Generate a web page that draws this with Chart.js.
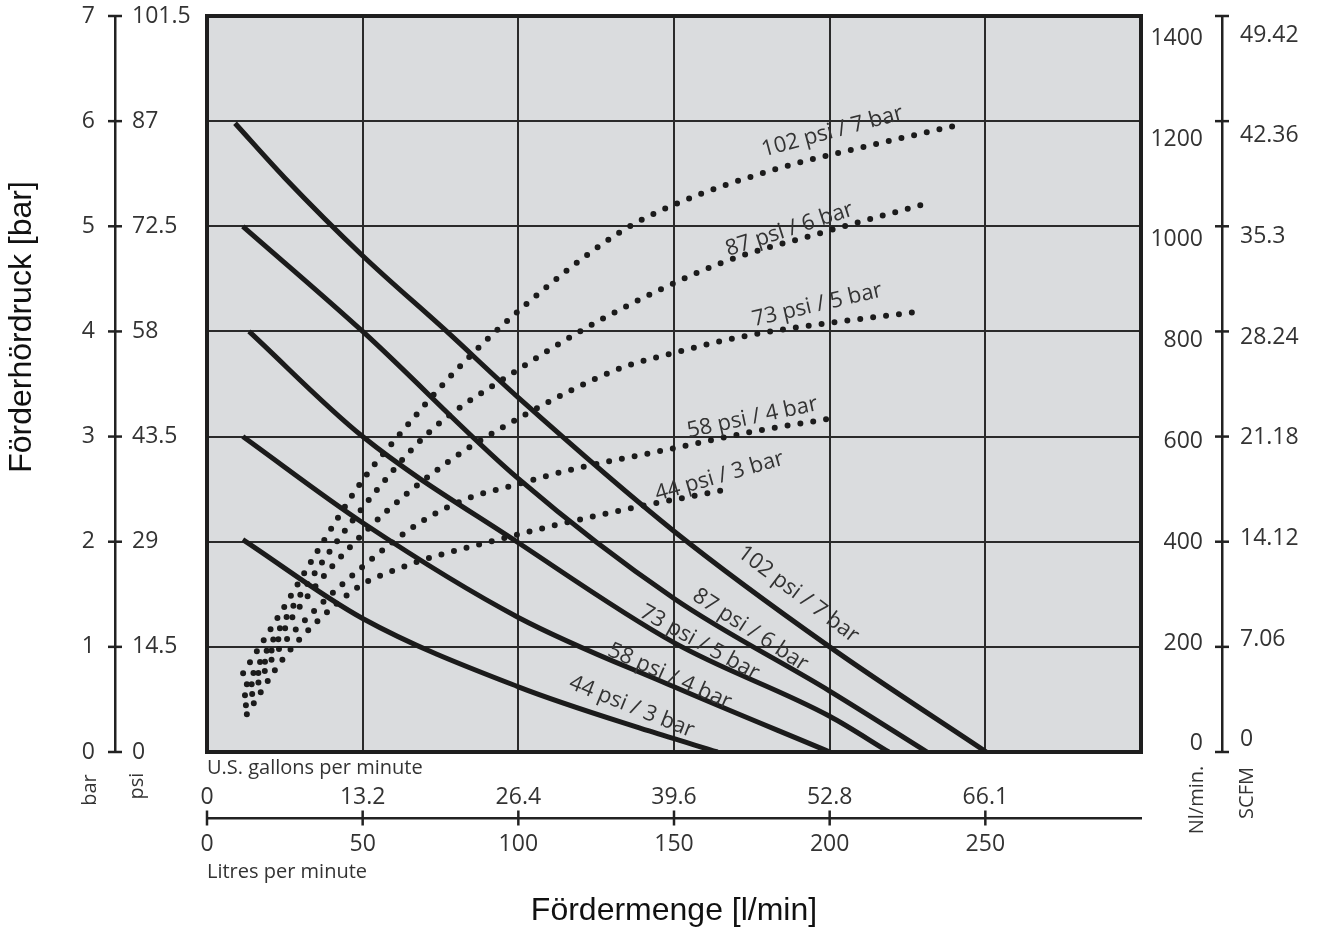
<!DOCTYPE html>
<html>
  <head>
    <meta charset="UTF-8" />
    <title>Förderkennlinie</title>
    <script src="https://cdn.jsdelivr.net/npm/chart.js"></script>
    <style>
      body {
        margin: 0;
        background: #fff;
      }
      canvas {
        display: block;
      }
    </style>
  </head>
  <body>
    <canvas id="pumpChart" width="1317" height="927"></canvas>
  </body>
  <script>
    // Förderhöhe (bar) over Fördermenge (l/min), one curve per air pressure
    const flow7 = [9, 25, 50, 77, 100, 150, 200, 250.3];
    const head7 = [5.98, 5.46, 4.72, 4.0, 3.37, 2.1, 1.0, 0];
    const flow6 = [11.5, 50, 100, 150, 200, 231.3];
    const head6 = [5.0, 4.0, 2.6, 1.46, 0.58, 0];
    const flow5 = [13.5, 50, 100, 150, 200, 219];
    const head5 = [4.0, 3.0, 1.99, 1.04, 0.34, 0];
    const flow4 = [11.5, 50, 100, 150, 200];
    const head4 = [3.0, 2.18, 1.28, 0.62, 0];
    const flow3 = [11.5, 50, 100, 142, 164];
    const head3 = [2.02, 1.27, 0.62, 0.2, 0];

    // air consumption (Nl/min) over Fördermenge (l/min)
    const airFlow7 = [11.6, 24.4, 36.9, 50.1, 61, 80.5, 102, 131.9, 150.8, 182.9, 218.2, 241.6];
    const air7 = [150, 272, 396, 518, 598, 729, 849, 986, 1043, 1109, 1161, 1193];
    const airFlow6 = [12.8, 31.4, 50.7, 71.5, 98.8, 127.7, 165.6, 197.6, 229.7];
    const air6 = [129, 312, 470, 609, 723, 826, 931, 988, 1041];
    const airFlow5 = [12.2, 29.5, 51.3, 77.0, 102.0, 131.5, 151.1, 175.2, 199.9, 227.8];
    const air5 = [108, 274, 422, 550, 641, 727, 761, 794, 816, 837];
    const airFlow4 = [12.5, 21.8, 34.7, 50.7, 68.3, 82.8, 98.8, 119.0, 144.4, 176.8, 202.1];
    const air4 = [89, 185, 270, 356, 436, 480, 508, 540, 571, 611, 636];
    const airFlow3 = [12.8, 24.4, 35.9, 49.1, 60.3, 72.5, 95.6, 112.3, 136.4, 165.0];
    const air3 = [72, 177, 251, 316, 346, 371, 407, 432, 464, 497];

    // tick values and labels
    const barTicks = [0, 1, 2, 3, 4, 5, 6, 7];
    const psiTicks = [0, 14.5, 29, 43.5, 58, 72.5, 87, 101.5];
    const nlTicks = [0, 200, 400, 600, 800, 1000, 1200, 1400];
    const scfmLabels = ["0", "7.06", "14.12", "21.18", "28.24", "35.3", "42.36", "49.42"];
    const litreTicks = [0, 50, 100, 150, 200, 250];
    const gallonLabels = ["0", "13.2", "26.4", "39.6", "52.8", "66.1"];

    // curve captions, in data units of their axis
    const curveLabels = [
      { text: "102 psi / 7 bar", x: 189.9, y: 1.5, axis: "y", angle: 37 },
      { text: "87 psi / 6 bar", x: 174.5, y: 1.16, axis: "y", angle: 33 },
      { text: "73 psi / 5 bar", x: 158.2, y: 1.04, axis: "y", angle: 29 },
      { text: "58 psi / 4 bar", x: 148.6, y: 0.72, axis: "y", angle: 24 },
      { text: "44 psi / 3 bar", x: 136.4, y: 0.43, axis: "y", angle: 22 },
      { text: "102 psi / 7 bar", x: 200.9, y: 1180, axis: "yNl", angle: -15 },
      { text: "87 psi / 6 bar", x: 187.1, y: 994, axis: "yNl", angle: -18 },
      { text: "73 psi / 5 bar", x: 196.0, y: 850, axis: "yNl", angle: -13 },
      { text: "58 psi / 4 bar", x: 175.2, y: 636, axis: "yNl", angle: -12 },
      { text: "44 psi / 3 bar", x: 164.6, y: 524, axis: "yNl", angle: -16 },
    ];

    const FONT = '"Open Sans", sans-serif';
    const INK = "#333";
    const LINE = "#1b1b1b";

    Chart.defaults.font.family = FONT;
    Chart.defaults.color = INK;

    const pts = (xs, ys) => xs.map((x, i) => ({ x: x, y: ys[i] }));
    const fixedTicks = (values) => (scale) => {
      scale.ticks = values.map((v) => ({ value: v }));
    };
    // fixed box sizes, and no label overhang padding so the plot keeps its place
    const setWidth = (w) => (scale) => {
      scale.width = w;
      scale.paddingTop = 0;
      scale.paddingBottom = 0;
    };
    const setHeight = (h) => (scale) => {
      scale.height = h;
      scale.paddingLeft = 0;
      scale.paddingRight = 0;
    };

    const solid = (xs, ys) => ({
      data: pts(xs, ys),
      xAxisID: "x",
      yAxisID: "y",
      borderColor: LINE,
      borderWidth: 5,
      pointRadius: 0,
      cubicInterpolationMode: "monotone",
    });
    const dotted = (xs, ys) => ({
      data: pts(xs, ys),
      xAxisID: "x",
      yAxisID: "yNl",
      borderColor: LINE,
      borderWidth: 6,
      borderDash: [0, 13],
      borderCapStyle: "round",
      pointRadius: 0,
      cubicInterpolationMode: "monotone",
    });

    const noGrid = { display: false, drawTicks: false };
    const noBorder = { display: false };
    const tickFont = { size: 23 };

    function text(ctx, s, x, y, angle, font, color) {
      ctx.save();
      ctx.translate(x, y);
      ctx.rotate((angle * Math.PI) / 180);
      ctx.font = font;
      ctx.fillStyle = color;
      ctx.textAlign = "center";
      ctx.textBaseline = "middle";
      ctx.fillText(s, 0, 0);
      ctx.restore();
    }

    // grey plot field, frame, crossing tick marks and captions
    const decorations = {
      id: "decorations",
      beforeDraw(chart) {
        const { ctx, chartArea: a } = chart;
        ctx.save();
        ctx.fillStyle = "#dadcde";
        ctx.fillRect(a.left, a.top, a.width, a.height);
        ctx.restore();
      },
      afterDraw(chart) {
        const { ctx, chartArea: a, scales } = chart;
        ctx.save();
        ctx.strokeStyle = "#1e1e1e";
        ctx.lineWidth = 4;
        ctx.strokeRect(a.left, a.top, a.width, a.height);

        ctx.lineWidth = 2.5;
        ctx.strokeStyle = "#222";
        const seg = (x1, y1, x2, y2) => {
          ctx.beginPath();
          ctx.moveTo(x1, y1);
          ctx.lineTo(x2, y2);
          ctx.stroke();
        };
        const lx = scales.y.right;
        barTicks.forEach((v) => {
          const p = scales.y.getPixelForValue(v);
          seg(lx - 7, p, lx + 7, p);
        });
        const rx = scales.yScfm.left;
        nlTicks.forEach((v) => {
          const p = scales.yNl.getPixelForValue(v);
          seg(rx - 7, p, rx + 7, p);
        });
        const by = scales.x.top;
        litreTicks.forEach((v) => {
          const p = scales.x.getPixelForValue(v);
          seg(p, by - 7.5, p, by + 7.5);
        });

        curveLabels.forEach((l) => {
          text(ctx, l.text, scales.x.getPixelForValue(l.x), scales[l.axis].getPixelForValue(l.y), l.angle, "22px " + FONT, INK);
        });

        text(ctx, "bar", scales.y.right - 25, a.bottom + 38, -90, "20px " + FONT, INK);
        text(ctx, "psi", scales.yPsi.left + 5, a.bottom + 34, -90, "20px " + FONT, INK);
        text(ctx, "Nl/min.", scales.yNlLab.right - 6, a.bottom + 48, -90, "20px " + FONT, INK);
        text(ctx, "SCFM", scales.yScfm.left + 25, a.bottom + 41, -90, "20px " + FONT, INK);
        text(ctx, "Förderhördruck [bar]", 22, a.top + 311, -90, '32px "Liberation Sans", Arial', "#111");
        ctx.restore();
      },
    };

    const ctx = document.getElementById("pumpChart").getContext("2d");
    new Chart(ctx, {
      type: "line",
      data: {
        datasets: [
          solid(flow7, head7),
          solid(flow6, head6),
          solid(flow5, head5),
          solid(flow4, head4),
          solid(flow3, head3),
          dotted(airFlow7, air7),
          dotted(airFlow6, air6),
          dotted(airFlow5, air5),
          dotted(airFlow4, air4),
          dotted(airFlow3, air3),
        ],
      },
      options: {
        responsive: false,
        animation: false,
        events: [],
        layout: { padding: { top: 16, left: 0, right: 0, bottom: 0 } },
        plugins: {
          legend: { display: false },
          tooltip: { enabled: false },
        },
        scales: {
          // litres axis carries the data and the vertical grid
          x: {
            type: "linear",
            position: "bottom",
            weight: 2,
            min: 0,
            max: 300,
            afterBuildTicks: fixedTicks(litreTicks),
            afterFit: setHeight(66),
            ticks: { padding: 13, font: tickFont, maxRotation: 0, autoSkip: false, callback: (v) => String(v) },
            grid: { color: "#2a2a2a", lineWidth: 2, drawTicks: false },
            border: { color: "#222", width: 2.5 },
            title: { display: true, text: "Litres per minute", align: "start", font: { size: 20 }, padding: { top: 0, bottom: 0 } },
          },
          xGal: {
            type: "linear",
            position: "bottom",
            weight: 1,
            min: 0,
            max: 300,
            afterBuildTicks: fixedTicks(litreTicks),
            afterFit: setHeight(38),
            ticks: { padding: 4, font: tickFont, maxRotation: 0, autoSkip: false, callback: (v, i) => gallonLabels[i] },
            grid: noGrid,
            border: noBorder,
          },
          xGalTitle: {
            type: "linear",
            position: "bottom",
            weight: 0,
            min: 0,
            max: 300,
            afterFit: setHeight(28),
            ticks: { display: false },
            grid: noGrid,
            border: noBorder,
            title: { display: true, text: "U.S. gallons per minute", align: "start", font: { size: 20 }, padding: { top: 0, bottom: 0 } },
          },
          xName: {
            type: "linear",
            position: "bottom",
            weight: 3,
            min: 0,
            max: 300,
            afterFit: setHeight(43),
            ticks: { display: false },
            grid: noGrid,
            border: noBorder,
            title: {
              display: true,
              text: "Fördermenge [l/min]",
              color: "#111",
              font: { family: '"Liberation Sans", Arial', size: 32, lineHeight: 1 },
              padding: { top: 0, bottom: 0 },
            },
          },
          // bar axis carries the pressure curves and the horizontal grid
          y: {
            type: "linear",
            position: "left",
            weight: 2,
            min: 0,
            max: 7,
            afterBuildTicks: fixedTicks(barTicks),
            afterFit: setWidth(115),
            ticks: { padding: 20, font: tickFont, autoSkip: false },
            grid: { color: "#2a2a2a", lineWidth: 2, drawTicks: false },
            border: { color: "#222", width: 2.5 },
          },
          ySp: {
            type: "linear",
            position: "left",
            weight: 1,
            min: 0,
            max: 1,
            afterFit: setWidth(17),
            ticks: { display: false },
            grid: noGrid,
            border: noBorder,
          },
          yPsi: {
            type: "linear",
            position: "left",
            weight: 0,
            min: 0,
            max: 101.5,
            afterBuildTicks: fixedTicks(psiTicks),
            afterFit: setWidth(75),
            ticks: { crossAlign: "far", font: tickFont, autoSkip: false, callback: (v) => String(v) },
            grid: noGrid,
            border: noBorder,
          },
          // air consumption scale, used for the dotted curves only
          yNl: {
            type: "linear",
            position: "right",
            display: false,
            min: 0,
            max: 1400,
          },
          yNlLab: {
            type: "linear",
            position: "right",
            weight: 0,
            min: -16,
            max: 1444,
            afterBuildTicks: fixedTicks(nlTicks),
            afterFit: setWidth(62),
            ticks: { crossAlign: "far", font: tickFont, autoSkip: false, callback: (v) => String(v) },
            grid: noGrid,
            border: noBorder,
          },
          yGapR: {
            type: "linear",
            position: "right",
            weight: 1,
            min: 0,
            max: 1,
            afterFit: setWidth(19),
            ticks: { display: false },
            grid: noGrid,
            border: noBorder,
          },
          yScfm: {
            type: "linear",
            position: "right",
            weight: 2,
            min: -24,
            max: 1438,
            afterBuildTicks: fixedTicks(nlTicks),
            afterFit: setWidth(95),
            ticks: { padding: 18, font: tickFont, autoSkip: false, callback: (v, i) => scfmLabels[i] },
            grid: noGrid,
            border: { color: "#222", width: 2.5 },
          },
        },
      },
      plugins: [decorations],
    });
  </script>
</html>
